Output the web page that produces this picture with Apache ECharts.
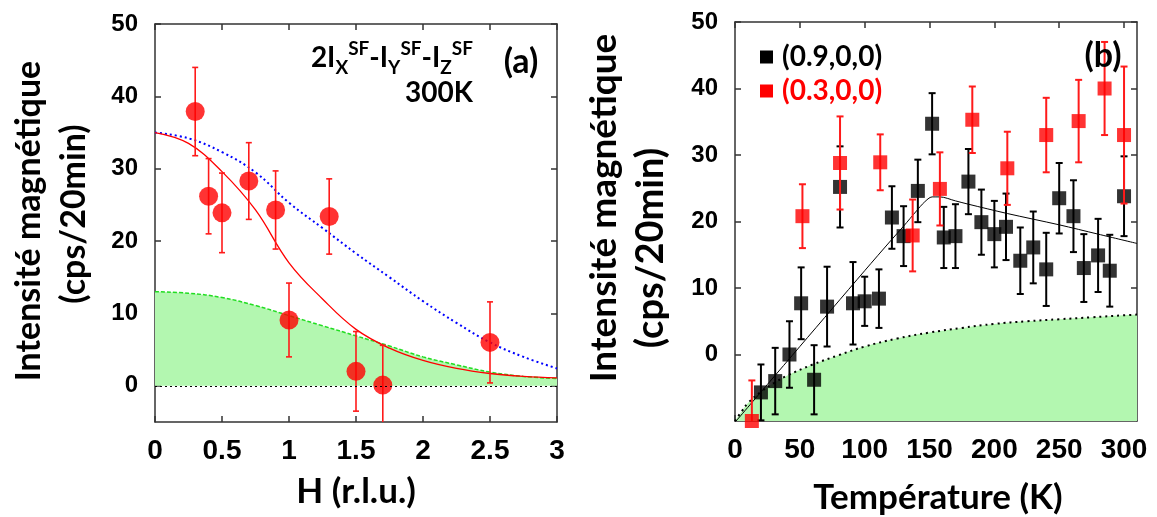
<!DOCTYPE html>
<html><head><meta charset="utf-8">
<script src="https://cdn.jsdelivr.net/npm/echarts@6/dist/echarts.min.js"></script>
<style>html,body{margin:0;padding:0;background:#fff}#c{width:1157px;height:517px}</style>
</head><body><div id="c"></div>
<script>
// ---------- Panel (a) data ----------
const hPoints = [0.30, 0.40, 0.50, 0.70, 0.90, 1.00, 1.30, 1.50, 1.70, 2.50];
const hValues = [37.9, 26.2, 23.9, 28.3, 24.3, 9.1, 23.4, 2.0, 0.1, 6.0];
const hErrors = [6.1, 5.2, 5.5, 5.3, 5.4, 5.1, 5.2, 5.5, 5.5, 5.6];
const curveH  = [0, 0.25, 0.5, 0.75, 1.0, 1.25, 1.5, 1.75, 2.0, 2.25, 2.5, 2.75, 3.0];
const redFit  = [35.0, 33.5, 29.6, 24.3, 17.0, 12.0, 7.8, 5.2, 3.5, 2.4, 1.7, 1.3, 1.1];
const blueFit = [35.0, 34.2, 32.3, 29.5, 25.3, 21.8, 18.3, 15.0, 11.7, 8.7, 6.0, 4.0, 2.4];
const greenA  = [13.0, 12.8, 12.2, 11.1, 9.7, 8.3, 6.9, 5.5, 4.0, 2.9, 1.9, 1.3, 1.0];
const yTicksA = [0, 10, 20, 30, 40, 50];

// ---------- Panel (b) data ----------
const tBlack = [20, 31, 42, 51, 61, 71, 81, 91, 100, 111, 121, 130, 141, 152, 161, 170, 180, 190, 200, 209, 220, 230, 240, 250, 261, 269, 280, 289, 300];
const vBlack = [-5.7, -4.0, 0.0, 7.7, -3.8, 7.2, 25.2, 7.7, 8.0, 8.4, 20.6, 17.8, 24.6, 34.7, 17.6, 17.8, 26.0, 19.9, 18.1, 19.2, 14.1, 16.1, 12.8, 23.5, 20.8, 13.0, 14.9, 12.6, 23.8];
const eBlack = [4.2, 5.0, 5.0, 5.4, 5.2, 6.0, 6.1, 6.2, 3.7, 4.4, 4.7, 4.5, 4.7, 4.6, 4.6, 4.8, 4.9, 4.9, 5.0, 5.0, 5.0, 5.4, 5.5, 5.3, 5.4, 5.1, 5.5, 5.4, 6.0];
const tRed = [13, 52, 81, 112, 137, 158, 183, 210, 240, 265, 285, 300];
const vRed = [-10.0, 20.8, 28.8, 28.9, 17.9, 24.9, 35.3, 28.0, 33.0, 35.1, 40.0, 33.0];
const eRed = [6.1, 4.8, 7.0, 4.2, 5.4, 5.5, 5.0, 5.5, 5.6, 6.2, 7.0, 10.3];
const fitT = [0, 25, 50, 75, 100, 120, 130, 140, 146, 152, 158, 170, 180, 210, 250, 280, 310];
const fitV = [-10.2, -4.5, 1.2, 6.9, 12.6, 17.1, 19.3, 21.6, 22.9, 23.7, 23.7, 23.1, 22.6, 21.2, 19.5, 18.1, 16.7];
const bgT = [0, 5, 10, 20, 30, 40, 60, 80, 100, 125, 150, 175, 200, 225, 250, 275, 300, 310];
const bgV = [-10, -8.6, -7.3, -5.6, -4.3, -3.2, -1.5, -0.1, 1.2, 2.4, 3.3, 4.0, 4.6, 5.0, 5.3, 5.6, 5.9, 6.0];
const xTicksB = [0, 50, 100, 150, 200, 250, 300];
const yTicksB = [0, 10, 20, 30, 40, 50];

const nameBlack = '(0.9,0,0)';
const nameRed = '(0.3,0,0)';

// ---------- helpers ----------
const zip = (xs, ys) => xs.map((x, i) => [x, ys[i]]);
const errData = (xs, ys, es) => xs.map((x, i) => [x, ys[i] - es[i], ys[i] + es[i]]);
const AX = '#333';
const TITLE_FONT = 'Lato, "Open Sans", sans-serif';
const TICK_FONT = '"Liberation Sans", Arial, sans-serif';

function errRender(color, width, capW) {
  return function (params, api) {
    const x = api.value(0), lo = api.value(1), hi = api.value(2);
    const pHi = api.coord([x, hi]);
    const pLo = api.coord([x, lo]);
    const cs = params.coordSys;
    const top = cs.y, bottom = cs.y + cs.height;
    const y1 = Math.max(pHi[1], top), y2 = Math.min(pLo[1], bottom);
    const st = { stroke: color, lineWidth: width };
    const ch = [{ type: 'line', shape: { x1: pHi[0], y1: y1, x2: pHi[0], y2: y2 }, style: st }];
    if (pHi[1] >= top) ch.push({ type: 'line', shape: { x1: pHi[0] - capW, y1: pHi[1], x2: pHi[0] + capW, y2: pHi[1] }, style: st });
    if (pLo[1] <= bottom) ch.push({ type: 'line', shape: { x1: pLo[0] - capW, y1: pLo[1], x2: pLo[0] + capW, y2: pLo[1] }, style: st });
    return { type: 'group', children: ch };
  };
}

function xAxisDef(grid, min, max, interval, pos, showLabel, custom) {
  const d = {
    type: 'value', gridIndex: grid, min: min, max: max, position: pos,
    axisLine: { show: true, onZero: false, lineStyle: { color: AX, width: 1.5 } },
    axisTick: { show: true, inside: true, length: 6, lineStyle: { color: AX, width: 1.5 } },
    splitLine: { show: false },
    axisLabel: { show: showLabel, fontSize: 28, fontWeight: 'bold', color: '#000', fontFamily: TICK_FONT, margin: 15 }
  };
  if (interval) d.interval = interval;
  if (custom) { d.axisTick.customValues = custom; d.axisLabel.customValues = custom; }
  return d;
}
function yAxisDef(grid, min, max, pos, showLabel, custom) {
  return {
    type: 'value', gridIndex: grid, min: min, max: max, position: pos,
    axisLine: { show: true, onZero: false, lineStyle: { color: AX, width: 1.5 } },
    axisTick: { show: true, inside: true, length: 6, customValues: custom, lineStyle: { color: AX, width: 1.5 } },
    splitLine: { show: false },
    axisLabel: { show: showLabel, customValues: custom, fontSize: 24, fontWeight: 'bold', color: '#000', fontFamily: TICK_FONT, margin: 17 }
  };
}
function legendItem(y, name, color) {
  return {
    type: 'group', x: 760, y: y, z: 10, children: [
      { type: 'rect', shape: { x: 0, y: -6.5, width: 13, height: 13 }, style: { fill: color } },
      { type: 'text', x: 22, y: 0, style: { text: name, font: 'bold 28px ' + TITLE_FONT, fill: color, textAlign: 'left', textVerticalAlign: 'middle' } }
    ]
  };
}

const chart = echarts.init(document.getElementById('c'), null, { renderer: 'canvas' });

const option = {
  backgroundColor: '#fff',
  animation: false,
  grid: [
    { left: 155, top: 24, width: 402, height: 398 },
    { left: 735, top: 22, width: 402, height: 399 }
  ],
  xAxis: [
    xAxisDef(0, 0, 3, 0.5, 'bottom', true, null),
    xAxisDef(0, 0, 3, 0.5, 'top', false, null),
    xAxisDef(1, 0, 310, null, 'bottom', true, xTicksB),
    xAxisDef(1, 0, 310, null, 'top', false, xTicksB)
  ],
  yAxis: [
    yAxisDef(0, -5, 50, 'left', true, yTicksA),
    yAxisDef(0, -5, 50, 'right', false, yTicksA),
    yAxisDef(1, -10, 50, 'left', true, yTicksB),
    yAxisDef(1, -10, 50, 'right', false, yTicksB)
  ],
  series: [
    // panel (a)
    {
      type: 'line', name: 'bgA', xAxisIndex: 0, yAxisIndex: 0, data: zip(curveH, greenA),
      smooth: 0.4, showSymbol: false, silent: true, z: 1,
      lineStyle: { color: '#22dd22', width: 1.5, type: [4, 2] },
      areaStyle: { color: '#b3f7b0', opacity: 1 },
      markLine: {
        silent: true, symbol: 'none', label: { show: false },
        lineStyle: { color: '#000', width: 1.2, type: [2, 3] },
        data: [{ yAxis: 0 }]
      }
    },
    {
      type: 'line', name: 'blueA', xAxisIndex: 0, yAxisIndex: 0, data: zip(curveH, blueFit),
      smooth: 0.4, showSymbol: false, silent: true, z: 2,
      lineStyle: { color: '#0000ff', width: 2, type: [2, 3] }
    },
    {
      type: 'line', name: 'redA', xAxisIndex: 0, yAxisIndex: 0, data: zip(curveH, redFit),
      smooth: 0.4, showSymbol: false, silent: true, z: 2,
      lineStyle: { color: '#ff0000', width: 1.3 }
    },
    {
      type: 'custom', name: 'errA', xAxisIndex: 0, yAxisIndex: 0, z: 3,
      data: errData(hPoints, hValues, hErrors), encode: { x: 0, y: [1, 2] },
      renderItem: errRender('#ff1a1a', 1.6, 3)
    },
    {
      type: 'scatter', name: 'ptsA', xAxisIndex: 0, yAxisIndex: 0, z: 4, clip: false,
      data: zip(hPoints, hValues), symbol: 'circle', symbolSize: 19,
      itemStyle: { color: '#ff0000' }
    },
    // panel (b)
    {
      type: 'line', name: 'bgB', xAxisIndex: 2, yAxisIndex: 2, data: zip(bgT, bgV),
      smooth: 0.4, showSymbol: false, silent: true, z: 1,
      lineStyle: { color: '#000', width: 2, type: [2, 4] },
      areaStyle: { color: '#b3f7b0', opacity: 1, origin: 'start' }
    },
    {
      type: 'line', name: 'fitB', xAxisIndex: 2, yAxisIndex: 2, data: zip(fitT, fitV),
      smooth: 0.3, showSymbol: false, silent: true, z: 2,
      lineStyle: { color: '#000', width: 1 }
    },
    {
      type: 'custom', name: 'errBlack', xAxisIndex: 2, yAxisIndex: 2, z: 3,
      data: errData(tBlack, vBlack, eBlack), encode: { x: 0, y: [1, 2] },
      renderItem: errRender('#000', 2, 3.5)
    },
    {
      type: 'scatter', name: nameBlack, xAxisIndex: 2, yAxisIndex: 2, z: 4, clip: false,
      data: zip(tBlack, vBlack), symbol: 'rect', symbolSize: 14,
      itemStyle: { color: '#000' }
    },
    {
      type: 'custom', name: 'errRed', xAxisIndex: 2, yAxisIndex: 2, z: 5,
      data: errData(tRed, vRed, eRed), encode: { x: 0, y: [1, 2] },
      renderItem: errRender('#ff1a1a', 2, 3.5)
    },
    {
      type: 'scatter', name: nameRed, xAxisIndex: 2, yAxisIndex: 2, z: 6, clip: false,
      data: zip(tRed, vRed), symbol: 'rect', symbolSize: 14,
      itemStyle: { color: '#ff0000' }
    }
  ],
  graphic: [
    legendItem(57, nameBlack, '#000'),
    legendItem(91, nameRed, '#ff0000'),
    // y titles
    { type: 'text', x: 29, y: 221, rotation: Math.PI / 2, z: 10,
      style: { text: 'Intensité magnétique', font: 'bold 34px ' + TITLE_FONT, fill: '#000', textAlign: 'center', textVerticalAlign: 'middle' } },
    { type: 'text', x: 74, y: 214, rotation: Math.PI / 2, z: 10,
      style: { text: '(cps/20min)', font: 'bold 34px ' + TITLE_FONT, fill: '#000', textAlign: 'center', textVerticalAlign: 'middle' } },
    { type: 'text', x: 604, y: 208, rotation: Math.PI / 2, z: 10,
      style: { text: 'Intensité magnétique', font: 'bold 37px ' + TITLE_FONT, fill: '#000', textAlign: 'center', textVerticalAlign: 'middle' } },
    { type: 'text', x: 651, y: 248, rotation: Math.PI / 2, z: 10,
      style: { text: '(cps/20min)', font: 'bold 38px ' + TITLE_FONT, fill: '#000', textAlign: 'center', textVerticalAlign: 'middle' } },
    // x titles
    { type: 'text', x: 356, y: 492, z: 10,
      style: { text: 'H (r.l.u.)', font: 'bold 35px ' + TITLE_FONT, fill: '#000', textAlign: 'center', textVerticalAlign: 'middle' } },
    { type: 'text', x: 938, y: 498, z: 10,
      style: { text: 'Température (K)', font: 'bold 35px ' + TITLE_FONT, fill: '#000', textAlign: 'center', textVerticalAlign: 'middle' } },
    // panel labels
    { type: 'text', x: 521, y: 62, z: 10,
      style: { text: '(a)', font: 'bold 34px ' + TITLE_FONT, fill: '#000', textAlign: 'center', textVerticalAlign: 'middle' } },
    { type: 'text', x: 1103, y: 56, z: 10,
      style: { text: '(b)', font: 'bold 34px ' + TITLE_FONT, fill: '#000', textAlign: 'center', textVerticalAlign: 'middle' } },
    { type: 'text', x: 473, y: 93, z: 10,
      style: { text: '300K', font: 'bold 28px ' + TITLE_FONT, fill: '#000', textAlign: 'right', textVerticalAlign: 'middle' } },
    { type: 'text', x: 473, y: 58, z: 10,
      style: {
        text: '{m|2I}{s|X}{p|SF}{m|-I}{s|Y}{p|SF}{m|-I}{s|Z}{p|SF}',
        textAlign: 'right', textVerticalAlign: 'middle', fill: '#000',
        rich: {
          m: { fontSize: 28, fontWeight: 'bold', fontFamily: TITLE_FONT, lineHeight: 38, verticalAlign: 'middle', color: '#000' },
          s: { fontSize: 19, fontWeight: 'bold', fontFamily: TITLE_FONT, lineHeight: 19, verticalAlign: 'bottom', color: '#000' },
          p: { fontSize: 19, fontWeight: 'bold', fontFamily: TITLE_FONT, lineHeight: 19, verticalAlign: 'top', color: '#000' }
        }
      } }
  ]
};
chart.setOption(option);
</script>
</body></html>
